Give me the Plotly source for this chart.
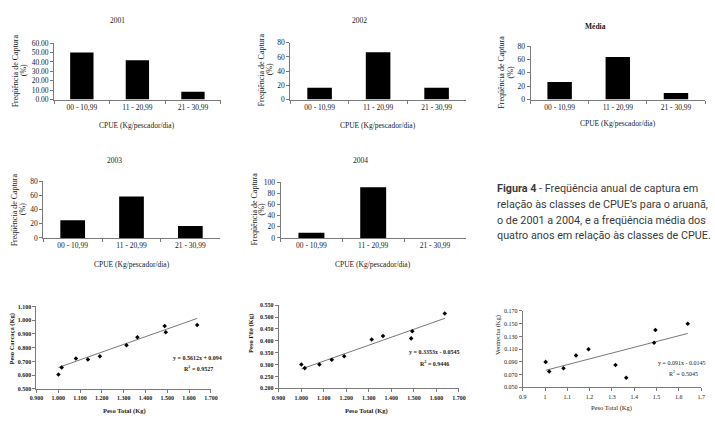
import plotly.graph_objects as go

W, H = 715, 421

# ---------------- data ----------------
categories = ["00 - 10,99", "11 - 20,99", "21 - 30,99"]
freq_2001 = [50.0, 41.7, 8.3]
freq_2002 = [16.7, 66.7, 16.7]
freq_media = [26.5, 63.5, 10.0]
freq_2003 = [25.0, 58.3, 16.7]
freq_2004 = [9.1, 90.9, 0.0]

peso_total = [1.001, 1.016, 1.081, 1.136, 1.191, 1.313, 1.363, 1.488, 1.493, 1.637]
peso_carcaca = [0.605, 0.655, 0.721, 0.714, 0.738, 0.817, 0.876, 0.957, 0.912, 0.964]
peso_file = [0.300, 0.285, 0.300, 0.320, 0.335, 0.405, 0.420, 0.410, 0.440, 0.515]
peso_total_v = [1.003, 1.019, 1.083, 1.139, 1.195, 1.316, 1.364, 1.489, 1.495, 1.640]
ventrecha = [0.090, 0.075, 0.080, 0.100, 0.110, 0.085, 0.065, 0.120, 0.140, 0.150]

carc_slope, carc_int, carc_r2 = 0.5612, 0.094, 0.9527
file_slope, file_int, file_r2 = 0.3353, -0.0545, 0.9446
vent_slope, vent_int, vent_r2 = 0.091, -0.0145, 0.5045

def px(x):
    return x / W

def py(y):
    return 1 - y / H

SERIF = "Liberation Serif, Times New Roman, serif"
AX = "#7a7a7a"
TXT = "#1a1a1a"

fig = go.Figure()
layout = dict(
    width=W, height=H, margin=dict(l=0, r=0, t=0, b=0),
    paper_bgcolor="white", plot_bgcolor="white", showlegend=False,
    bargap=0.58, font=dict(family=SERIF, color=TXT, size=8),
)
annotations = []

def ann(text, x, y, size=7.5, angle=0, xanchor="center", yanchor="middle",
        family=SERIF, color=TXT, weight="normal"):
    annotations.append(dict(text=text, x=px(x), y=py(y), xref="paper", yref="paper",
                            showarrow=False, textangle=angle, xanchor=xanchor,
                            yanchor=yanchor, font=dict(family=family, size=size,
                                                       color=color, weight=weight)))

bar_panels = [
    ("2001", freq_2001, 48, 218, 40, 97.7, 60, 10, ".2f", (113, 17), (9, 17), 68, 124),
    ("2002", freq_2002, 289, 468, 39.5, 97.7, 80, 20, "d", (360, 17), (260, 268), 67, 124),
    ("<b>Média</b>", freq_media, 534, 712, 43, 97.7, 80, 20, "d", (600, 23), (504, 514), 70, 122),
    ("2003", freq_2003, 37, 217, 181, 239, 80, 20, "d", (110, 160), (8, 16), 210, 266),
    ("2004", freq_2004, 279, 468, 182, 239, 100, 20, "d", (361, 160), (252, 260), 210, 266),
]

n = 0
for (title, vals, x0, x1, yt, yb, ymax, dt, fmt, txy, ytx, yty, xty) in bar_panels:
    n += 1
    s = "" if n == 1 else str(n)
    fig.add_trace(go.Bar(x=categories, y=vals, marker=dict(color="black", line=dict(width=0)),
                         xaxis="x" + s, yaxis="y" + s, hoverinfo="skip"))
    layout["xaxis" + s] = dict(domain=[px(x0), px(x1)], anchor="y" + s,
                               showline=True, linecolor=AX, linewidth=1,
                               ticks="outside", ticklen=3, tickcolor=AX, tickson="boundaries",
                               tickfont=dict(family=SERIF, size=7.5, color=TXT),
                               showgrid=False, zeroline=False, fixedrange=True)
    layout["yaxis" + s] = dict(domain=[py(yb), py(yt)], anchor="x" + s,
                               range=[0, ymax], dtick=dt, tickformat=fmt,
                               showline=True, linecolor=AX, linewidth=1,
                               ticks="outside", ticklen=3, tickcolor=AX,
                               tickfont=dict(family=SERIF, size=7.5, color=TXT),
                               showgrid=False, zeroline=False, fixedrange=True)
    ann(title, txy[0], txy[1], size=7.5)
    ann("Freqüência de Captura", ytx[0], yty, size=8, angle=-90)
    ann("(%)", ytx[1], yty, size=8, angle=-90)
    ann("CPUE (Kg/pescador/dia)", (x0 + x1) / 2, xty, size=7.5)

scatter_panels = [
    (peso_total, peso_carcaca, carc_slope, carc_int, 30, 208, 309, 393.3,
     [0.5, 1.1], 0.1, [0.9, 1.7], 0.1, ".3f", ".3f", "bold",
     "Peso Carcaça (Kg)", 5, 342, "Peso Total (Kg)", 120, 415.5,
     "y = 0.5612x + 0.094", "R<sup>2</sup> = 0.9527", (194, 362), (195, 372)),
    (peso_total, peso_file, file_slope, file_int, 277, 461, 307.7, 392.7,
     [0.2, 0.55], 0.05, [0.9, 1.7], 0.1, ".3f", ".3f", "bold",
     "Peso Filé (Kg)", 249, 337, "Peso Total (Kg)", 367, 415.5,
     "y = 0.3353x - 0.0545", "R<sup>2</sup> = 0.9446", (436, 356), (436, 367)),
    (peso_total_v, ventrecha, vent_slope, vent_int, 526, 708, 313.7, 391.7,
     [0.05, 0.17], 0.02, [0.9, 1.7], 0.1, ".3f", "", "normal",
     "Ventrecha (Kg)", 501, 338, "Peso Total (Kg)", 617, 412.5,
     "y = 0.091x - 0.0145", "R<sup>2</sup> = 0.5045", (688, 367), (690, 377)),
]

for (xs, ys, sl, ic, x0, x1, yt, yb, yr, ydt, xr, xdt, yfmt, xfmt, wt,
     ytitle, ytx, yty, xtitle, xtx, xty, eq, r2txt, eqxy, r2xy) in scatter_panels:
    n += 1
    s = str(n)
    xline = [min(xs), max(xs)]
    yline = [sl * v + ic for v in xline]
    fig.add_trace(go.Scatter(x=xline, y=yline, mode="lines",
                             line=dict(color="#555555", width=0.8),
                             xaxis="x" + s, yaxis="y" + s, hoverinfo="skip"))
    fig.add_trace(go.Scatter(x=xs, y=ys, mode="markers",
                             marker=dict(symbol="diamond", size=3.5, color="black"),
                             xaxis="x" + s, yaxis="y" + s, hoverinfo="skip"))
    tf = dict(family=SERIF, size=6, color=TXT, weight=wt)
    xax = dict(domain=[px(x0), px(x1)], anchor="y" + s,
               range=xr, dtick=xdt, tick0=0.9,
               showline=True, linecolor=AX, linewidth=1,
               ticks="outside", ticklen=3, tickcolor=AX, tickfont=tf,
               showgrid=False, zeroline=False, fixedrange=True)
    if xfmt:
        xax["tickformat"] = xfmt
    layout["xaxis" + s] = xax
    layout["yaxis" + s] = dict(domain=[py(yb), py(yt)], anchor="x" + s,
                               range=yr, dtick=ydt, tick0=yr[0], tickformat=yfmt,
                               showline=True, linecolor=AX, linewidth=1,
                               ticks="outside", ticklen=3, tickcolor=AX, tickfont=tf,
                               showgrid=False, zeroline=False, fixedrange=True)
    ann(ytitle, ytx, yty, size=6.5, angle=-90, weight=wt)
    ann(xtitle, xtx, xty, size=6.5, weight=wt)
    ann(eq, eqxy[0], eqxy[1], size=6, weight=wt)
    ann(r2txt, r2xy[0], r2xy[1], size=6, weight=wt)

# ---------------- caption ----------------
CAP = "Liberation Sans Narrow, Arial Narrow, Roboto, sans-serif"
cap_lines = [
    "<b>Figura 4</b> - Freqüência anual de captura em",
    "relação às classes de CPUE’s para o aruanã,",
    "o de 2001 a 2004, e a freqüência média dos",
    "quatro anos em relação às classes de CPUE.",
]
cap_y = [189, 205, 221, 237]
for t, yy in zip(cap_lines, cap_y):
    ann(t, 498, yy, size=10.8, xanchor="left", family=CAP, color="#3a3a3a")

layout["annotations"] = annotations
fig.update_layout(**layout)
fig.write_html("out.html", config={"displayModeBar": False},
               post_script="document.body.style.margin='0';document.body.style.overflow='hidden';")
